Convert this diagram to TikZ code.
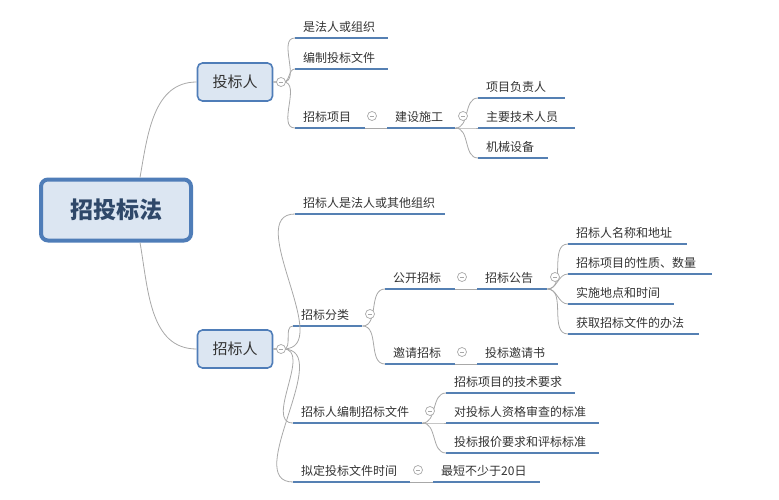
\documentclass[tikz,border=0pt]{standalone}
\usepackage{fontspec}
\setmainfont{Noto Sans CJK SC}
\definecolor{ulc}{HTML}{5580B3}
\definecolor{boxd}{HTML}{4F7DB8}
\definecolor{boxf}{HTML}{DCE6F2}
\definecolor{txt}{HTML}{333333}
\definecolor{conc}{HTML}{A8A8A8}
\tikzset{
  tp/.style={anchor=south west, inner xsep=8pt, inner ysep=3pt, text height=10pt, text depth=3pt,
    text width=#1, align=left, font=\fontsize{12}{14}\selectfont, text=txt,
    append after command={(\tikzlastnode.south west) edge[ulline] (\tikzlastnode.south east)}},
  ulline/.style={draw=ulc, line width=2.4pt},
  conn/.style={draw=conc, line width=0.8pt},
  tog/.style={circle, draw=conc, fill=white, line width=0.7pt, minimum size=9pt, inner sep=0pt,
    path picture={\draw[conc,line width=0.6pt] ([xshift=-2.2pt]path picture bounding box.center) -- ([xshift=2.2pt]path picture bounding box.center);}},
  mainbox/.style={draw=boxd, fill=boxf, rounded corners=5pt, line width=1.6pt, minimum width=75pt,
    minimum height=38pt, font=\fontsize{15}{18}\selectfont, text=txt}
}
\begin{document}
\begin{tikzpicture}[x=1pt,y=-1pt]
\useasboundingbox (0,0) rectangle (779,500);
\node[draw=boxd, fill=boxf, rounded corners=7pt, line width=4pt, minimum width=150pt, minimum height=61pt,
  font=\fontsize{23}{26}\selectfont\bfseries, text={rgb,255:red,47;green,72;blue,105}] (root) at (116,210) {招投标法};
\node[mainbox] (tbr) at (235,82) {投标人};
\node[mainbox] (zbr) at (235,349) {招标人};
% top branch
\node[tp=77pt] (a1) at (295,38) {是法人或组织};
\node[tp=77pt] (a2) at (295,69) {编制投标文件};
\node[tp=54pt] (a3) at (295,128) {招标项目};
\node[tp=52pt] (a4) at (387,128) {建设施工};
\node[tp=71pt] (a5) at (478,98) {项目负责人};
\node[tp=81pt] (a6) at (478,128) {主要技术人员};
\node[tp=54pt] (a7) at (478,158) {机械设备};
% bottom branch
\node[tp=134pt] (b1) at (295,214) {招标人是法人或其他组织};
\node[tp=53pt] (b2) at (293,326) {招标分类};
\node[tp=54pt] (b3) at (385,289) {公开招标};
\node[tp=54pt] (b4) at (477,289) {招标公告};
\node[tp=103pt] (b5) at (568,244) {招标人名称和地址};
\node[tp=128pt] (b6) at (568,274) {招标项目的性质、数量};
\node[tp=90pt] (b7) at (568,304) {实施地点和时间};
\node[tp=115pt] (b8) at (568,334) {获取招标文件的办法};
\node[tp=54pt] (b9) at (385,364) {邀请招标};
\node[tp=65pt] (b10) at (477,364) {投标邀请书};
\node[tp=113pt] (b11) at (293,423) {招标人编制招标文件};
\node[tp=113pt] (b12) at (446,393) {招标项目的技术要求};
\node[tp=137pt] (b13) at (446,423) {对投标人资格审查的标准};
\node[tp=137pt] (b14) at (446,453) {投标报价要求和评标标准};
\node[tp=101pt] (b15) at (293,482) {拟定投标文件时间};
\node[tp=91pt] (b16) at (433,482) {最短不少于20日};
% connectors
\draw[conn] ([xshift=24pt]root.north) to[out=80,in=180] (tbr.west);
\draw[conn] ([xshift=24pt]root.south) to[out=-80,in=180] (zbr.west);
\foreach \c in {a1,a2,a3} \draw[conn] (tbr.east) -- ++(10,0) to[out=0,in=180] (\c.south west);
\draw[conn] (a3.south east) -- (a4.south west);
\foreach \c in {a5,a6,a7} \draw[conn] (a4.south east) to[out=0,in=180] (\c.south west);
\foreach \c in {b1,b2,b11,b15} \draw[conn] (zbr.east) -- ++(10,0) to[out=0,in=180] (\c.south west);
\foreach \c in {b3,b9} \draw[conn] (b2.south east) to[out=0,in=180] (\c.south west);
\draw[conn] (b3.south east) -- (b4.south west);
\foreach \c in {b5,b6,b7,b8} \draw[conn] (b4.south east) to[out=0,in=180] (\c.south west);
\draw[conn] (b9.south east) -- (b10.south west);
\foreach \c in {b12,b13,b14} \draw[conn] (b11.south east) to[out=0,in=180] (\c.south west);
\draw[conn] (b15.south east) -- (b16.south west);
% toggles
\node[tog] (t0) at (281,82) {};
\node[tog] (t1) at (372,116) {};
\node[tog] (t2) at (463,116) {};
\node[tog] (t3) at (281,349) {};
\node[tog] (t4) at (370,314) {};
\node[tog] (t5) at (462,277) {};
\node[tog] (t6) at (555,277) {};
\node[tog] (t7) at (462,352) {};
\node[tog] (t8) at (430,411) {};
\node[tog] (t9) at (418,470) {};
\end{tikzpicture}
\end{document}
